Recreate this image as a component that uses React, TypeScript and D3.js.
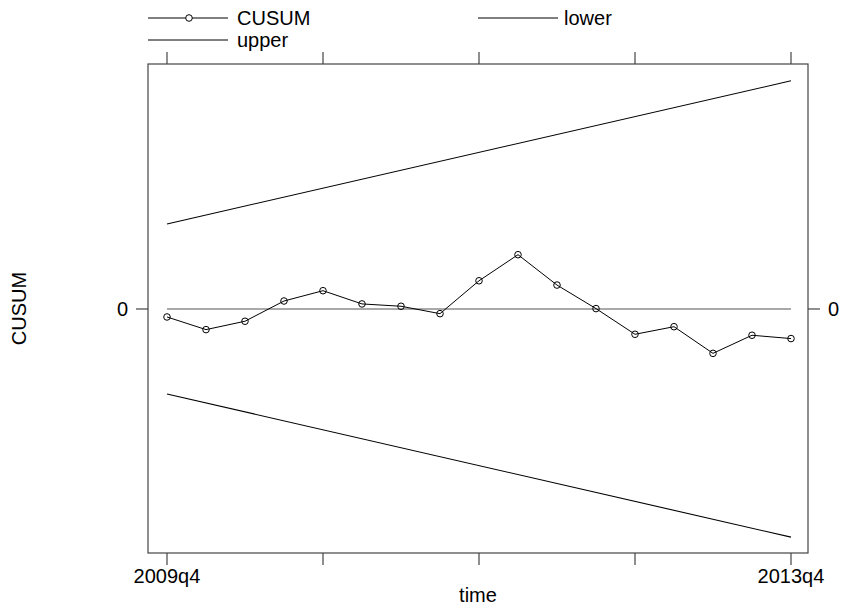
import React, { useEffect } from "react";
import * as d3 from "d3";

// quarter index 0 = 2009q4 ... 16 = 2013q4
const quarters: number[] = [0, 1, 2, 3, 4, 5, 6, 7, 8, 9, 10, 11, 12, 13, 14, 15, 16];
const cusum: number[] = [-0.41, -1.06, -0.63, 0.41, 0.94, 0.26, 0.14, -0.24, 1.45, 2.79, 1.23, 0.02, -1.3, -0.91, -2.28, -1.35, -1.52];
const boundTimes: number[] = [0, 16];
const upperBound: number[] = [4.369, 11.726];
const lowerBound: number[] = [-4.369, -11.726];
const xTicks: number[] = [0, 4, 8, 12, 16];
const xTickLabels: { [k: number]: string } = { 0: "2009q4", 16: "2013q4" };
const yTicks: number[] = [0];

const W = 841;
const H = 610;
const box = { left: 148, right: 808, top: 64, bottom: 553 };
const FONT = "'Liberation Sans', Arial, Helvetica, sans-serif";

export default function App() {
  useEffect(() => {
    document.body.style.margin = "0";
  }, []);

  const x = d3.scaleLinear().domain([-0.487, 16.436]).range([box.left, box.right]);
  const y = d3.scaleLinear().domain([-12.54, 12.59]).range([box.bottom, box.top]);

  const line = d3
    .line<[number, number]>()
    .x((d) => x(d[0]))
    .y((d) => y(d[1]));

  const cusumPts: [number, number][] = quarters.map((q, i) => [q, cusum[i]]);
  const upperPts: [number, number][] = boundTimes.map((t, i) => [t, upperBound[i]]);
  const lowerPts: [number, number][] = boundTimes.map((t, i) => [t, lowerBound[i]]);
  const zeroPts: [number, number][] = [
    [quarters[0], 0],
    [quarters[quarters.length - 1], 0],
  ];

  const axisColor = "#444";
  const fs = 20;

  return (
    <svg
      width={W}
      height={H}
      style={{ position: "absolute", left: 0, top: 0, background: "#fff" }}
      fontFamily={FONT}
    >
      <rect x={0} y={0} width={W} height={H} fill="#fff" />
      {/* Legend */}
      <g fontSize={fs} fill="#000">
        <line x1={148} x2={228} y1={18} y2={18} stroke="#000" strokeWidth={1} />
        <circle cx={189} cy={18} r={3.3} fill="#fff" stroke="#000" strokeWidth={1} />
        <text x={237} y={25}>CUSUM</text>
        <line x1={478} x2={558} y1={18} y2={18} stroke="#000" strokeWidth={1} />
        <text x={564} y={25}>lower</text>
        <line x1={148} x2={228} y1={40} y2={40} stroke="#000" strokeWidth={1} />
        <text x={237} y={47}>upper</text>
      </g>

      {/* plot box */}
      <rect
        x={box.left}
        y={box.top}
        width={box.right - box.left}
        height={box.bottom - box.top}
        fill="none"
        stroke={axisColor}
        strokeWidth={1.2}
      />

      {/* x ticks top & bottom */}
      {xTicks.map((t) => (
        <g key={"xt" + t}>
          <line x1={x(t)} x2={x(t)} y1={box.top} y2={box.top - 12} stroke={axisColor} strokeWidth={1.2} />
          <line x1={x(t)} x2={x(t)} y1={box.bottom} y2={box.bottom + 12} stroke={axisColor} strokeWidth={1.2} />
          {xTickLabels[t] ? (
            <text x={x(t)} y={583} textAnchor="middle" fontSize={fs}>
              {xTickLabels[t]}
            </text>
          ) : null}
        </g>
      ))}

      {/* y ticks left & right */}
      {yTicks.map((v) => (
        <g key={"yt" + v}>
          <line x1={box.left - 12} x2={box.left} y1={y(v)} y2={y(v)} stroke={axisColor} strokeWidth={1.2} />
          <line x1={box.right} x2={box.right + 12} y1={y(v)} y2={y(v)} stroke={axisColor} strokeWidth={1.2} />
          <text x={128} y={y(v) + 7} textAnchor="end" fontSize={fs}>
            {String(v)}
          </text>
          <text x={828} y={y(v) + 7} textAnchor="start" fontSize={fs}>
            {String(v)}
          </text>
        </g>
      ))}

      {/* axis titles */}
      <text x={(box.left + box.right) / 2} y={602} textAnchor="middle" fontSize={fs}>
        time
      </text>
      <text
        transform={`translate(26, ${(box.top + box.bottom) / 2}) rotate(-90)`}
        textAnchor="middle"
        fontSize={fs}
      >
        CUSUM
      </text>

      {/* zero line */}
      <path d={line(zeroPts) || ""} fill="none" stroke="#555" strokeWidth={1.2} />

      {/* bounds */}
      <path d={line(upperPts) || ""} fill="none" stroke="#000" strokeWidth={1.1} />
      <path d={line(lowerPts) || ""} fill="none" stroke="#000" strokeWidth={1.1} />

      {/* cusum */}
      <path d={line(cusumPts) || ""} fill="none" stroke="#000" strokeWidth={1} />
      {cusumPts.map((p, i) => (
        <circle key={"c" + i} cx={x(p[0])} cy={y(p[1])} r={3.3} fill="none" stroke="#000" strokeWidth={1} />
      ))}
    </svg>
  );
}
